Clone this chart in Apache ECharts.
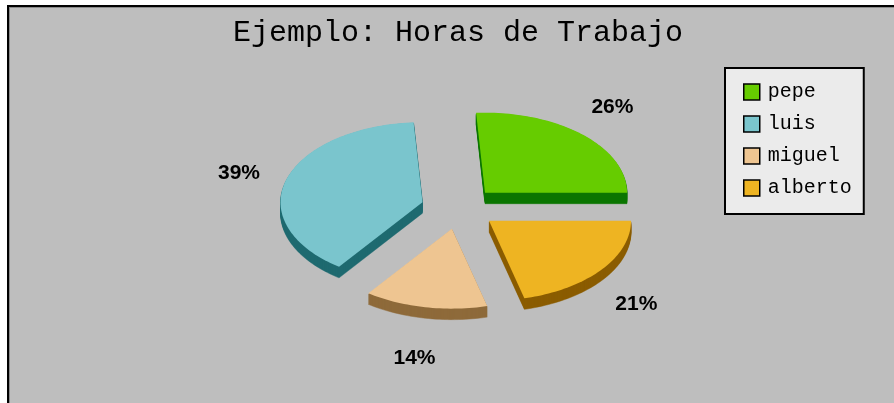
<!DOCTYPE html>
<html>
<head>
<meta charset="utf-8">
<script src="https://cdn.jsdelivr.net/npm/echarts@6/dist/echarts.min.js"></script>
<style>
html,body{margin:0;padding:0;background:#fff;}
#c{width:894px;height:403px;}
</style>
</head>
<body>
<div id="c"></div>
<script>
// ---- data ----
const categories = ['pepe', 'luis', 'miguel', 'alberto'];
const values = [26, 39, 14, 21];
const titleText = 'Ejemplo: Horas de Trabajo';

// ---- styles ----
const topColors = ['#66cc00', '#7ac5cd', '#eec591', '#eeb422'];
const sideColors = ['#0c7700', '#1f6a70', '#8e6a3a', '#8b5c00'];

const total = values.reduce((a, b) => a + b, 0);
const starts = [];
values.reduce((acc, v, i) => { starts[i] = acc; return acc + v; }, 0);

// layout of the pseudo-3D pie
const CX = 459, CY = 208, RX = 142, RY = 80, EX = 38, EY = 21, DEPTH = 11;
const LCX = 457, LX = 227, LCY = 214, LY = 147;

function renderSlice(params, api) {
  const s = api.value(0), v = api.value(1);
  const a0 = s / total * 2 * Math.PI;
  const a1 = (s + v) / total * 2 * Math.PI;
  const mid = (a0 + a1) / 2;
  const cx = CX + EX * Math.cos(mid);
  const cy = CY - EY * Math.sin(mid);
  const pts = [[cx, cy]];
  const steps = Math.max(2, Math.ceil((a1 - a0) / (Math.PI / 120)));
  for (let k = 0; k <= steps; k++) {
    const t = a0 + (a1 - a0) * k / steps;
    pts.push([cx + RX * Math.cos(t), cy - RY * Math.sin(t)]);
  }
  const idx = params.seriesIndex;
  const children = [];
  for (let d = DEPTH; d >= 1; d--) {
    children.push({
      type: 'polygon',
      shape: { points: pts.map(p => [p[0], p[1] + d]) },
      style: { fill: sideColors[idx], stroke: sideColors[idx], lineWidth: 0.5 }
    });
  }
  children.push({
    type: 'polygon',
    shape: { points: pts },
    style: { fill: topColors[idx] }
  });
  children.push({
    type: 'text',
    x: LCX + LX * Math.cos(mid),
    y: LCY - LY * Math.sin(mid),
    style: {
      text: Math.round(v / total * 100) + '%',
      font: 'bold 21px "Liberation Sans"',
      fill: '#000',
      align: 'center',
      verticalAlign: 'middle'
    }
  });
  return { type: 'group', children: children };
}

const chart = echarts.init(document.getElementById('c'), null, { renderer: 'canvas' });
chart.setOption({
  backgroundColor: '#bebebe',
  animation: false,
  title: {
    text: titleText,
    left: 233,
    top: 18,
    padding: 0,
    textStyle: { fontFamily: 'Liberation Mono', fontSize: 30, fontWeight: 'normal', color: '#000' }
  },
  legend: {
    orient: 'vertical',
    left: 725,
    top: 68,
    padding: [14, 12, 16, 18],
    backgroundColor: '#ebebeb',
    borderColor: '#000',
    borderWidth: 2,
    borderRadius: 0,
    itemWidth: 16,
    itemHeight: 16,
    itemGap: 12,
    icon: 'rect',
    itemStyle: { borderColor: '#000', borderWidth: 1.5 },
    textStyle: { fontFamily: 'Liberation Mono', fontSize: 20, color: '#000', padding: [0, 0, 0, 3] },
    data: categories
  },
  graphic: [
    { type: 'rect', silent: true, z: 100, shape: { x: 0, y: 0, width: 894, height: 5 }, style: { fill: '#fff' } },
    { type: 'rect', silent: true, z: 100, shape: { x: 0, y: 0, width: 7, height: 403 }, style: { fill: '#fff' } },
    { type: 'rect', silent: true, z: 100, shape: { x: 7, y: 5, width: 887, height: 2 }, style: { fill: '#000' } },
    { type: 'rect', silent: true, z: 100, shape: { x: 7, y: 5, width: 2, height: 398 }, style: { fill: '#000' } },
    { type: 'rect', silent: true, z: 100, shape: { x: 9, y: 7, width: 885, height: 1 }, style: { fill: '#8a8a8a' } },
    { type: 'rect', silent: true, z: 100, shape: { x: 9, y: 7, width: 1, height: 396 }, style: { fill: '#8a8a8a' } }
  ],
  series: categories.map((name, i) => ({
    type: 'custom',
    name: name,
    coordinateSystem: 'none',
    itemStyle: { color: topColors[i] },
    data: [[starts[i], values[i]]],
    renderItem: renderSlice
  }))
});
</script>
</body>
</html>
